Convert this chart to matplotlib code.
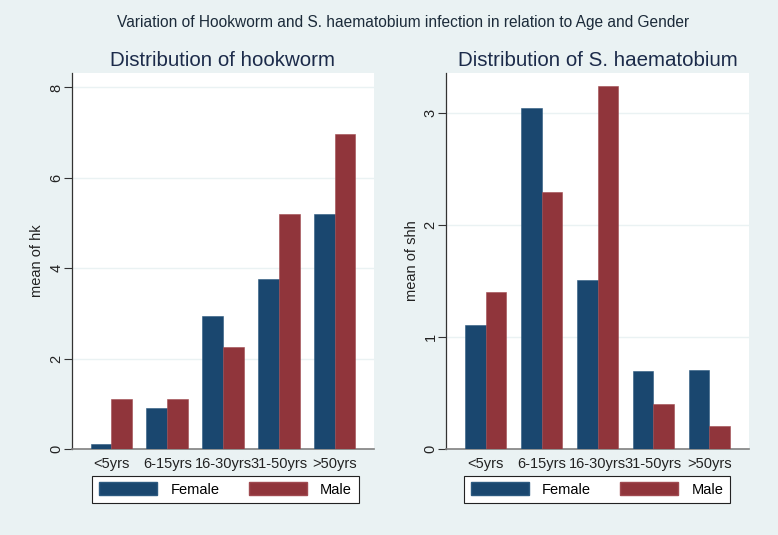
import matplotlib
matplotlib.use("Agg")
import matplotlib.pyplot as plt
import numpy as np
from matplotlib.patches import Patch

plt.rcParams['font.family'] = ['Liberation Sans', 'DejaVu Sans']

categories = ["<5yrs", "6-15yrs", "16-30yrs", "31-50yrs", ">50yrs"]
hk_female = [0.12, 0.90, 2.94, 3.76, 5.20]
hk_male = [1.10, 1.10, 2.26, 5.20, 6.98]
shh_female = [1.11, 3.05, 1.51, 0.70, 0.71]
shh_male = [1.40, 2.30, 3.24, 0.40, 0.21]
series_names = ["Female", "Male"]

main_title = "Variation of Hookworm and S. haematobium infection in relation to Age and Gender"
panel_titles = ["Distribution of hookworm", "Distribution of S. haematobium"]
ylabels = ["mean of hk", "mean of shh"]
yticks_list = [[0, 2, 4, 6, 8], [0, 1, 2, 3]]
ylims = [8.32, 3.36]

BG = "#eaf2f3"
NAVY = "#1a476f"
MAROON = "#90353b"
TITLE_C = "#1c2b4a"

W, H = 778, 535
fig = plt.figure(figsize=(W / 100, H / 100), dpi=100, facecolor=BG)

def frac(x0, y0, x1, y1):
    return [x0 / W, (H - y1) / H, (x1 - x0) / W, (y1 - y0) / H]

axes_px = [(72, 73, 374, 449), (446, 73, 749, 449)]
ylabel_px = [44, 419]
legend_px = [(94, 477, 357, 502), (469, 477, 725, 502)]
data = [(hk_female, hk_male), (shh_female, shh_male)]

x = np.arange(len(categories))
bw = 0.372

for k in range(2):
    ax = fig.add_axes(frac(*axes_px[k]))
    ax.set_facecolor("white")
    f, m = data[k]
    ax.bar(x - bw / 2, f, width=bw, color=NAVY, edgecolor="#2c5a80", linewidth=0.4, zorder=3)
    ax.bar(x + bw / 2, m, width=bw, color=MAROON, edgecolor="#a04a50", linewidth=0.4, zorder=3)
    ax.set_xlim(-0.706, len(categories) - 1 + 0.706)
    ax.set_ylim(0, ylims[k])
    ax.set_yticks(yticks_list[k])
    ax.set_yticklabels([str(t) for t in yticks_list[k]], rotation=90, va="center", fontsize=10.5, color="#222222")
    for t in yticks_list[k][1:]:
        ax.axhline(t, color=BG, linewidth=1.0, zorder=1)
    ax.set_xticks(x)
    ax.set_xticklabels(categories, fontsize=10.5, color="#222222")
    ax.tick_params(axis="x", length=0, pad=6)
    ax.tick_params(axis="y", length=6, width=0.8, color="#333333", pad=0)
    for s in ["top", "right"]:
        ax.spines[s].set_visible(False)
    ax.spines["left"].set_color("#333333")
    ax.spines["left"].set_linewidth(0.9)
    ax.spines["bottom"].set_color("#808080")
    ax.spines["bottom"].set_linewidth(1.2)
    ax.set_ylabel(ylabels[k], fontsize=10.5, color="#222222")
    x0, y0, x1, y1 = axes_px[k]
    ax.yaxis.set_label_coords((ylabel_px[k] - x0) / (x1 - x0), 0.5)
    ax.set_title(panel_titles[k], fontsize=14.8, color=TITLE_C, pad=5)

    lx0, ly0, lx1, ly1 = legend_px[k]
    handles = [Patch(facecolor=NAVY, edgecolor="#2c5a80"), Patch(facecolor=MAROON, edgecolor="#a04a50")]
    leg = fig.legend(handles, series_names, loc="center",
                     bbox_to_anchor=((lx0 + lx1) / 2 / W, 1 - (ly0 + ly1) / 2 / H),
                     ncol=2, fontsize=10.5, handlelength=4.0, handleheight=1.0,
                     columnspacing=2.0, handletextpad=0.9, borderpad=0.45,
                     frameon=True, fancybox=False, edgecolor="#222222", facecolor="white",
                     framealpha=1)
    leg.get_frame().set_linewidth(0.8)

fig.text(0.518, 1 - 22 / H, main_title, ha="center", va="center", fontsize=11.2, color="#1c2b3a")

fig.savefig("out.png", dpi=100, facecolor=BG)
